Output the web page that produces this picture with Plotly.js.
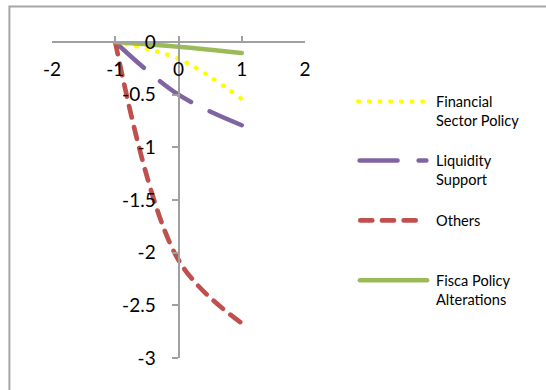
<!DOCTYPE html>
<html>
<head>
<meta charset="utf-8">
<script src="https://cdn.plot.ly/plotly-3.0.1.min.js"></script>
<style>
  html, body { margin: 0; padding: 0; background: #fff; }
  #chart { width: 546px; height: 390px; }
  /* rounded dash ends for the series lines and legend samples */
  .js-plotly-plot path.js-line,
  .js-plotly-plot .shapelayer path { stroke-linecap: round; }
</style>
</head>
<body>
<div id="chart"></div>
<script>
// Series values (x positions shared by all four series)
const xValues = [-1, 0, 1];
const seriesNames = ["Financial Sector Policy", "Liquidity Support", "Others", "Fisca Policy Alterations"];
const legendLabels = ["Financial<br>Sector Policy", "Liquidity<br>Support", "Others", "Fisca Policy<br>Alterations"];
const financialSector = [0, -0.16, -0.54];
const liquiditySupport = [0, -0.5, -0.79];
const others = [0, -2.07, -2.67];
const fiscalPolicy = [0, -0.045, -0.105];

// Axis ticks
const xTicks = [-2, -1, 0, 1, 2];
const yTicks = [0, -0.5, -1, -1.5, -2, -2.5, -3];
const yTickText = ["0", "-0.5", "-1", "-1.5", "-2", "-2.5", "-3"];

// Styling per series
const styles = [
  { color: "#FFFF00", width: 4.5, dash: "0.5px,10.2px" },
  { color: "#8064A2", width: 4.5, dash: "38px,21px" },
  { color: "#C0504D", width: 4.7, dash: "12px,9.7px" },
  { color: "#9BBB59", width: 4.5, dash: "solid" }
];
const seriesValues = [financialSector, liquiditySupport, others, fiscalPolicy];

// Plot-area geometry (pixels)
const W = 546, H = 390;
const M = { l: 51.7, r: 240.7, t: 41.5, b: 32.3 };
const PW = W - M.l - M.r, PH = H - M.t - M.b;
const px = v => (v - M.l) / PW;           // pixel x -> paper x
const py = v => 1 - (v - M.t) / PH;       // pixel y -> paper y

const traces = seriesValues.map((vals, i) => ({
  type: "scatter",
  mode: "lines",
  name: seriesNames[i],
  x: xValues,
  y: vals,
  line: { color: styles[i].color, width: styles[i].width, dash: styles[i].dash, shape: "spline", smoothing: 1 },
  showlegend: false,
  hoverinfo: "x+y+name"
}));

// Hand-built legend: sample line + wrapped label for each series
const legendRows = [101, 160, 220, 280];
const sampleSpans = [[358.7, 423.5], [360, 427], [360.7, 425], [360.3, 427.7]];
const shapes = [
  // outer chart frame
  { type: "rect", xref: "paper", yref: "paper",
    x0: px(9), x1: px(620), y0: py(6), y1: py(460),
    line: { color: "#A6A6A6", width: 2 }, fillcolor: "rgba(0,0,0,0)", layer: "below" }
];
const annotations = [];
legendRows.forEach((row, i) => {
  shapes.push({
    type: "line", xref: "paper", yref: "paper",
    x0: px(sampleSpans[i][0]), x1: px(sampleSpans[i][1]), y0: py(row), y1: py(row),
    line: { color: styles[i].color, width: styles[i].width, dash: styles[i].dash }
  });
  const twoLine = legendLabels[i].indexOf("<br>") >= 0;
  annotations.push({
    xref: "paper", yref: "paper",
    x: px(435), y: py(twoLine ? row + 10 : row),
    xanchor: "left", yanchor: "middle", align: "left",
    text: legendLabels[i], showarrow: false,
    font: { family: "Lato, sans-serif", size: 14.6, color: "#000" }
  });
});

const layout = {
  width: W, height: H,
  margin: M,
  paper_bgcolor: "#fff", plot_bgcolor: "#fff",
  showlegend: false,
  font: { family: "Lato, sans-serif", color: "#000" },
  xaxis: {
    range: [-2, 2], tickvals: xTicks, ticktext: xTicks.map(String),
    anchor: "free", position: 1, side: "bottom",
    showline: true, linecolor: "#A0A0A0", linewidth: 2,
    ticks: "inside", ticklen: 5, tickwidth: 2, tickcolor: "#A0A0A0",
    ticklabelstandoff: 10,
    showgrid: false, zeroline: false,
    tickfont: { family: "Lato, sans-serif", size: 19, color: "#000" }
  },
  yaxis: {
    range: [-3, 0], tickvals: yTicks, ticktext: yTickText,
    anchor: "free", position: 0.5, side: "left",
    showline: true, linecolor: "#A0A0A0", linewidth: 2,
    ticks: "outside", ticklen: 6, tickwidth: 2, tickcolor: "#A0A0A0",
    ticklabelstandoff: 12,
    showgrid: false, zeroline: false,
    tickfont: { family: "Lato, sans-serif", size: 19, color: "#000" }
  },
  shapes: shapes,
  annotations: annotations
};

Plotly.newPlot("chart", traces, layout, { staticPlot: true, displayModeBar: false });
</script>
</body>
</html>
